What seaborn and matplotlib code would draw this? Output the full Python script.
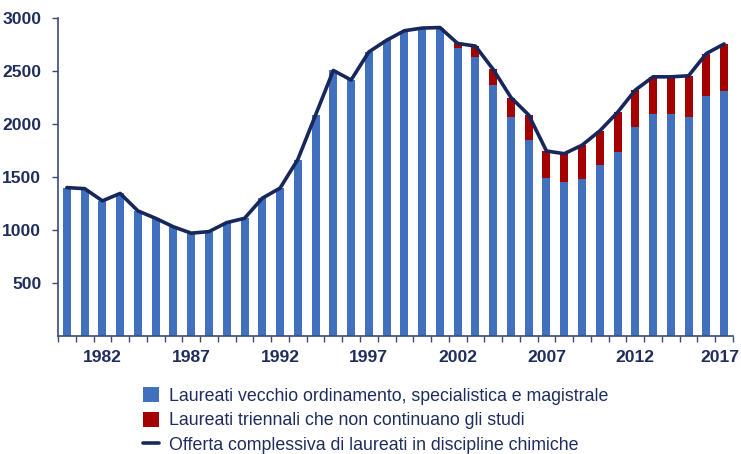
import numpy as np
import pandas as pd
import matplotlib
matplotlib.use("Agg")
import matplotlib.pyplot as plt
from matplotlib.patches import Patch
from matplotlib.lines import Line2D
from matplotlib.ticker import FixedLocator
from matplotlib.transforms import ScaledTranslation
import seaborn as sns

years = list(range(1980, 2018))
# laureati vecchio ordinamento, specialistica e magistrale
vecchio_spec_mag = [1400, 1390, 1275, 1345, 1180, 1110, 1030, 970, 985, 1070,
                    1110, 1300, 1395, 1665, 2085, 2505, 2415, 2680, 2790, 2880,
                    2905, 2910, 2720, 2635, 2370, 2065, 1850, 1490, 1450, 1480,
                    1615, 1735, 1970, 2090, 2090, 2070, 2265, 2310]
# laureati triennali che non continuano gli studi
triennali = [0, 0, 0, 0, 0, 0, 0, 0, 0, 0,
             0, 0, 0, 0, 0, 0, 0, 0, 0, 0,
             0, 0, 40, 100, 145, 185, 235, 255, 270, 320,
             320, 375, 350, 355, 355, 385, 400, 445]
tick_years = [1982, 1987, 1992, 1997, 2002, 2007, 2012, 2017]

legend_labels = [
    "Laureati vecchio ordinamento, specialistica e magistrale",
    "Laureati triennali che non continuano gli studi",
    "Offerta complessiva di laureati in discipline chimiche",
]

df = pd.DataFrame({"anno": years, "vecchio": vecchio_spec_mag, "triennali": triennali})
df["totale"] = df["vecchio"] + df["triennali"]

BLUE = "#4170be"
RED = "#a50000"
NAVY = "#17275c"
TEXT = "#1f2d5e"

sns.set_theme(style="white")
plt.rcParams["font.family"] = ["Liberation Sans", "DejaVu Sans"]

fig = plt.figure(figsize=(7.41, 4.54), dpi=100)
ax = fig.add_axes([58 / 741, 1 - 336 / 454, 675 / 741, 318 / 454])

# stacked bars: total in red, the blue share drawn over it
sns.barplot(data=df, x="anno", y="totale", color=RED, native_scale=True,
            width=0.45, saturation=1, edgecolor="none", ax=ax)
sns.barplot(data=df, x="anno", y="vecchio", color=BLUE, native_scale=True,
            width=0.45, saturation=1, edgecolor="none", ax=ax)
sns.lineplot(data=df, x="anno", y="totale", color=NAVY, linewidth=2.6, ax=ax)

ax.set_xlim(1979.5, 2017.5)
ax.set_ylim(0, 3000)
ax.set_xlabel("")
ax.set_ylabel("")

ax.set_xticks(tick_years)
ax.set_xticklabels([str(y) for y in tick_years])
ax.xaxis.set_minor_locator(FixedLocator(np.arange(1979.5, 2018, 1.0)))
ax.tick_params(axis="x", which="major", length=0, pad=10)
ax.tick_params(axis="x", which="minor", length=4, width=1, color="#3c4a78",
               direction="out", bottom=True)
ax.set_yticks([500, 1000, 1500, 2000, 2500, 3000])
ax.tick_params(axis="y", length=4, width=1, color="#3c4a78", direction="out",
               left=True, pad=8)
for lab in ax.get_xticklabels() + ax.get_yticklabels():
    lab.set_fontsize(12.6)
    lab.set_fontweight("bold")
    lab.set_color(TEXT)

# keep the last year label inside the figure edge
last = ax.get_xticklabels()[-1]
last.set_transform(last.get_transform() + ScaledTranslation(-4 / 100, 0, fig.dpi_scale_trans))

for side in ["top", "right"]:
    ax.spines[side].set_visible(False)
for side in ["left", "bottom"]:
    ax.spines[side].set_color("#3c4a78")
    ax.spines[side].set_linewidth(1.2)
ax.grid(False)

handles = [
    Patch(facecolor=BLUE, edgecolor="none"),
    Patch(facecolor=RED, edgecolor="none"),
    Line2D([0], [0], color=NAVY, linewidth=2.6),
]
leg = fig.legend(handles, legend_labels, loc="upper left",
                 bbox_to_anchor=(143 / 741, 1 - 387 / 454), frameon=False,
                 fontsize=12.8, handlelength=0.9, handleheight=0.9,
                 handletextpad=0.55, labelspacing=0.41, borderpad=0,
                 borderaxespad=0)
for t in leg.get_texts():
    t.set_color(TEXT)

fig.savefig("out.png", dpi=100, facecolor="white")
